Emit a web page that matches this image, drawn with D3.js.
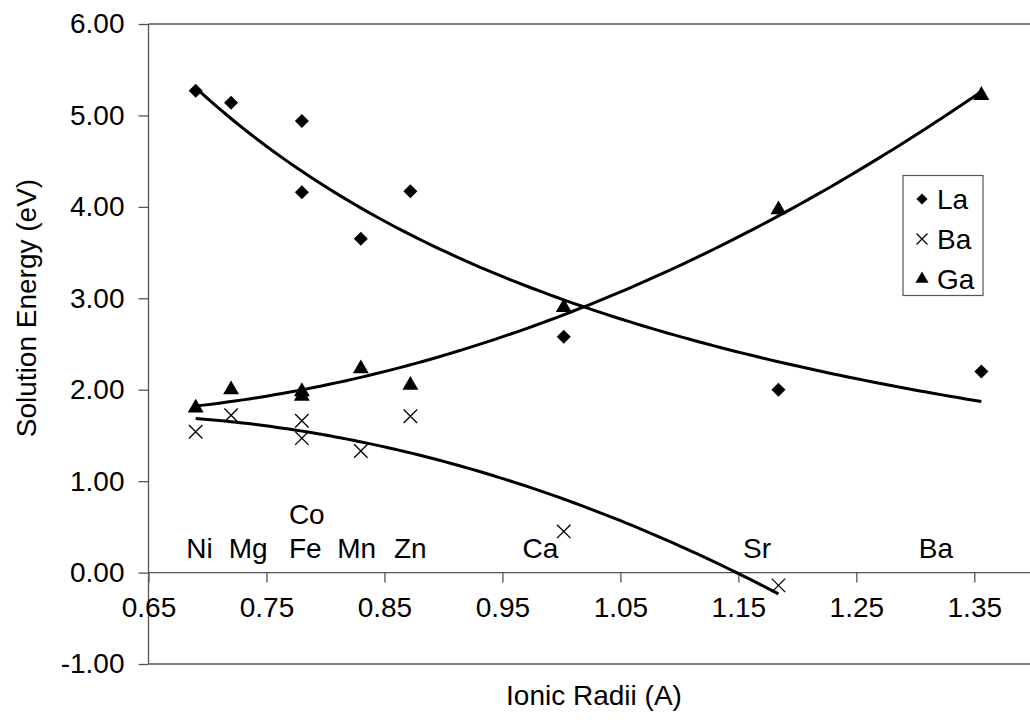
<html>
<meta charset="utf-8">
<title>Solution Energy vs Ionic Radii</title>
<body style="margin:0;background:#fff">
<div id="chartContainer"></div>
<script src="https://d3js.org/d3.v7.min.js"></script>
<script>
// dopant ionic radii (Fe appears twice: Fe and Co)
var radii = [0.69, 0.72, 0.78, 0.78, 0.83, 0.872, 1.002, 1.184, 1.356];
var laValues = [5.27, 5.14, 4.94, 4.16, 3.65, 4.17, 2.58, 2.00, 2.20];
var gaValues = [1.80, 2.00, 1.98, 1.93, 2.23, 2.05, 2.90, 3.97, 5.22];
// Ba site has no Ba dopant
var baRadii = [0.69, 0.72, 0.78, 0.78, 0.83, 0.872, 1.002, 1.184];
var baValues = [1.54, 1.72, 1.66, 1.47, 1.33, 1.71, 0.45, -0.14];

var yTicks = [-1, 0, 1, 2, 3, 4, 5, 6];
var xTicks = [0.65, 0.75, 0.85, 0.95, 1.05, 1.15, 1.25, 1.35];

// element names written inside the plot, [text, x, y] in data units
var elementLabels = [
  ["Ni", 0.682, 0.16], ["Mg", 0.718, 0.16], ["Fe", 0.769, 0.16], ["Co", 0.769, 0.53],
  ["Mn", 0.810, 0.16], ["Zn", 0.858, 0.16], ["Ca", 0.967, 0.16],
  ["Sr", 1.154, 0.16], ["Ba", 1.303, 0.16]
];
var legendNames = ["La", "Ba", "Ga"];

var W = 1030, H = 720;
var font = "'Liberation Sans', Arial, sans-serif";
var svg = d3.select("#chartContainer").append("svg")
  .attr("width", W).attr("height", H)
  .style("font-family", font);

var x = d3.scaleLinear().domain([0.65, 1.45]).range([148.5, 148.5 + 8 * 117.97]);
var y = d3.scaleLinear().domain([-1, 6]).range([664, 24]);
var fmt = d => d3.format(".2f")(d).replace("\u2212", "-");

// plot frame
svg.append("line").attr("x1", x(0.65)).attr("x2", W).attr("y1", y(6)).attr("y2", y(6))
  .attr("stroke", "#555").attr("stroke-width", 1.3);
svg.append("line").attr("x1", x(0.65)).attr("x2", W).attr("y1", y(-1)).attr("y2", y(-1))
  .attr("stroke", "#555").attr("stroke-width", 1.3);

// y axis
var yAxis = svg.append("g").attr("transform", "translate(" + x(0.65) + ",0)")
  .call(d3.axisLeft(y).tickValues(yTicks).tickSize(10).tickPadding(14).tickFormat(fmt));
yAxis.selectAll("path, line").attr("stroke", "#555").attr("stroke-width", 1.3);
yAxis.select(".domain").attr("d", "M0," + y(6) + "V" + y(-1));
yAxis.selectAll("text").style("font-size", "28px").style("font-family", font).attr("fill", "#000");

// x axis sits on y = 0
var xAxis = svg.append("g").attr("transform", "translate(0," + y(0) + ")")
  .call(d3.axisBottom(x).tickValues(xTicks).tickSize(10).tickPadding(15).tickFormat(fmt));
xAxis.selectAll("path, line").attr("stroke", "#555").attr("stroke-width", 1.3);
xAxis.select(".domain").attr("d", "M" + x(0.65) + ",0H" + W);
xAxis.selectAll("text").style("font-size", "28px").style("font-family", font).attr("fill", "#000");

// axis titles
svg.append("text").attr("x", 594).attr("y", 705).attr("text-anchor", "middle")
  .style("font-size", "28px").text("Ionic Radii (A)");
svg.append("text").attr("transform", "translate(36,308) rotate(-90)")
  .attr("text-anchor", "middle").style("font-size", "28px").text("Solution Energy (eV)");

// element labels
svg.selectAll(".el").data(elementLabels).enter().append("text")
  .attr("x", d => x(d[1])).attr("y", d => y(d[2]))
  .style("font-size", "28px").text(d => d[0]);

// least squares helpers
function polyFit2(xs, ys) {
  var s = [0, 0, 0, 0, 0], t = [0, 0, 0];
  xs.forEach(function (v, i) {
    for (var k = 0; k < 5; k++) s[k] += Math.pow(v, k);
    for (var k = 0; k < 3; k++) t[k] += ys[i] * Math.pow(v, k);
  });
  var A = [[s[0], s[1], s[2], t[0]], [s[1], s[2], s[3], t[1]], [s[2], s[3], s[4], t[2]]];
  for (var i = 0; i < 3; i++) {
    for (var j = i + 1; j < 3; j++) {
      var f = A[j][i] / A[i][i];
      for (var k = i; k < 4; k++) A[j][k] -= f * A[i][k];
    }
  }
  var c = [0, 0, 0];
  for (var i = 2; i >= 0; i--) {
    var v = A[i][3];
    for (var k = i + 1; k < 3; k++) v -= A[i][k] * c[k];
    c[i] = v / A[i][i];
  }
  return function (v) { return c[0] + c[1] * v + c[2] * v * v; };
}
function powerFit(xs, ys) {
  var lx = xs.map(Math.log), ly = ys.map(Math.log);
  var mx = d3.mean(lx), my = d3.mean(ly);
  var b = d3.sum(lx, (v, i) => (v - mx) * (ly[i] - my)) / d3.sum(lx, v => (v - mx) * (v - mx));
  var a = my - b * mx;
  return function (v) { return Math.exp(a + b * Math.log(v)); };
}

function trend(xs, fn) {
  var ext = d3.extent(xs), pts = [];
  for (var i = 0; i <= 100; i++) {
    var v = ext[0] + (ext[1] - ext[0]) * i / 100;
    pts.push([v, fn(v)]);
  }
  svg.append("path").datum(pts)
    .attr("d", d3.line().x(d => x(d[0])).y(d => y(d[1])))
    .attr("fill", "none").attr("stroke", "#000").attr("stroke-width", 3);
}
trend(radii, powerFit(radii, laValues));
trend(radii, polyFit2(radii, gaValues));
trend(baRadii, polyFit2(baRadii, baValues));

// markers
var diamond = d3.symbol().type(d3.symbolDiamond2).size(125);
var tri = d3.symbol().type(d3.symbolTriangle).size(110);
var cross = d3.symbol().type(d3.symbolTimes).size(120);

svg.selectAll(".la").data(laValues).enter().append("path")
  .attr("transform", (d, i) => "translate(" + x(radii[i]) + "," + y(d) + ")")
  .attr("d", diamond).attr("fill", "#000");
svg.selectAll(".ga").data(gaValues).enter().append("path")
  .attr("transform", (d, i) => "translate(" + x(radii[i]) + "," + y(d) + ")")
  .attr("d", tri).attr("fill", "#000");
svg.selectAll(".ba").data(baValues).enter().append("path")
  .attr("transform", (d, i) => "translate(" + x(baRadii[i]) + "," + y(d) + ")")
  .attr("d", cross).attr("fill", "none").attr("stroke", "#000").attr("stroke-width", 1.3);

// legend
var legend = svg.append("g").attr("transform", "translate(903,175.5)");
legend.append("rect").attr("width", 80).attr("height", 120)
  .attr("fill", "#fff").attr("stroke", "#555").attr("stroke-width", 1.2);
var legendSymbols = [d3.symbol().type(d3.symbolDiamond2).size(80),
  d3.symbol().type(d3.symbolTimes).size(80),
  d3.symbol().type(d3.symbolTriangle).size(75)];
legendNames.forEach(function (name, i) {
  var cy = 23.5 + i * 40;
  var p = legend.append("path").attr("transform", "translate(19," + cy + ")").attr("d", legendSymbols[i]);
  if (i == 1) p.attr("fill", "none").attr("stroke", "#000").attr("stroke-width", 1.2);
  else p.attr("fill", "#000");
  legend.append("text").attr("x", 34).attr("y", cy + 10).style("font-size", "28px").text(name);
});
</script>
</body>
</html>
